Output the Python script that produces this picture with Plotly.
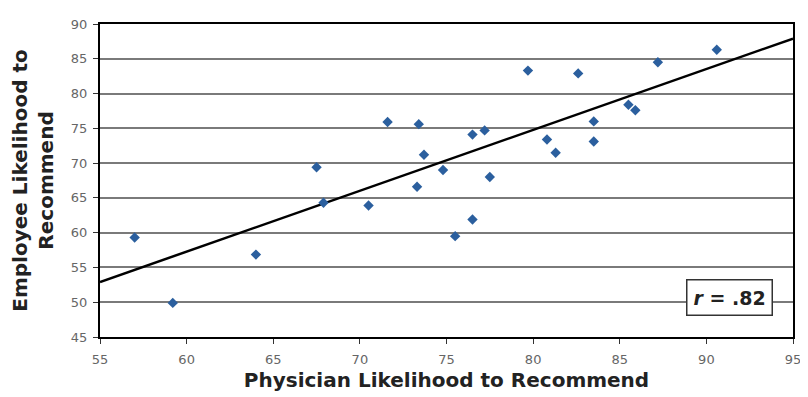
import plotly.graph_objects as go

physician = [57.0, 59.2, 64.0, 67.5, 67.9, 70.5, 71.6, 73.4, 73.7, 73.3, 74.8, 75.5, 76.5,
             76.5, 77.2, 77.5, 79.7, 80.8, 81.3, 82.6, 83.5, 83.5, 85.5, 85.9, 87.2, 90.6]
employee = [59.3, 49.9, 56.85, 69.4, 64.3, 63.9, 75.9, 75.6, 71.2, 66.6, 69.0, 59.5, 74.1,
            61.9, 74.7, 68.0, 83.3, 73.4, 71.5, 82.9, 76.0, 73.1, 78.4, 77.6, 84.5, 86.3]

trend_intercept = 52.9
trend_slope = 0.875
trend_x = [55, 95]
trend_y = [trend_intercept + trend_slope * (x - 55) for x in trend_x]

x_ticks = [55, 60, 65, 70, 75, 80, 85, 90, 95]
y_ticks = [45, 50, 55, 60, 65, 70, 75, 80, 85, 90]

fig = go.Figure()
fig.add_trace(go.Scatter(x=trend_x, y=trend_y, mode="lines",
                         line=dict(color="black", width=2.5), hoverinfo="skip"))
fig.add_trace(go.Scatter(x=physician, y=employee, mode="markers",
                         marker=dict(symbol="diamond", size=8, color="#2b5f9e")))

font_fam = "DejaVu Sans, Verdana, sans-serif"
fig.update_layout(
    width=808, height=397,
    margin=dict(l=92, r=23, t=9, b=68),
    paper_bgcolor="white", plot_bgcolor="white",
    showlegend=False,
    font=dict(family=font_fam, color="#555"),
    xaxis=dict(range=[55, 95], tickvals=x_ticks, showgrid=False, zeroline=False,
               showline=True, linecolor="black", linewidth=2, mirror=True,
               ticks="outside", ticklen=5, tickcolor="#333", ticklabelstandoff=4,
               tickfont=dict(size=13, color="#666"),
               title=dict(text="<b>Physician Likelihood to Recommend</b>",
                          font=dict(size=20, color="#222"), standoff=7)),
    yaxis=dict(range=[45, 90], tickvals=y_ticks, showgrid=True, gridcolor="#7a7a7a", gridwidth=1.5,
               zeroline=False, showline=True, linecolor="black", linewidth=2, mirror=True,
               ticks="outside", ticklen=5, tickcolor="#333", ticklabelstandoff=3,
               tickfont=dict(size=13, color="#666"),
               title=dict(text="<b>Employee Likelihood to<br>Recommend</b>",
                          font=dict(size=20, color="#222"), standoff=12)),
    annotations=[dict(x=91.35, y=50.7, xref="x", yref="y",
                      text="<b><i>r</i> = .82</b>", showarrow=False,
                      font=dict(size=19, color="#222", family=font_fam),
                      bgcolor="white", bordercolor="#333", borderwidth=1.5, borderpad=6)],
)
fig.write_html("out.html")
